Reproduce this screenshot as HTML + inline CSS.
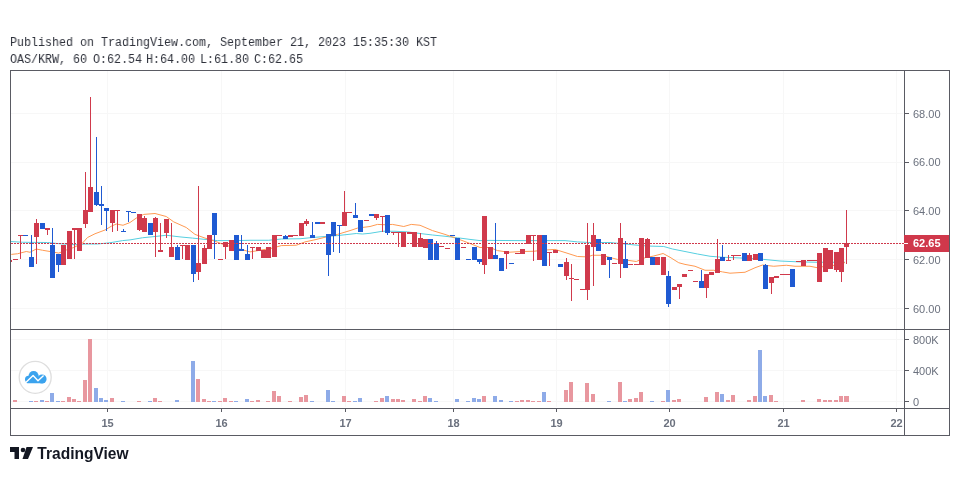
<!DOCTYPE html>
<html><head><meta charset="utf-8">
<style>
html,body{margin:0;padding:0;background:#fff;width:960px;height:500px;overflow:hidden;}
.hdr{position:absolute;left:10px;font-family:"Liberation Mono",monospace;font-size:12.5px;color:#2e313b;white-space:pre;line-height:14px;transform:scaleX(0.9333);transform-origin:0 0;}
svg{position:absolute;left:0;top:0;will-change:transform;}
.hdr{will-change:transform;}
.ax{font-family:"Liberation Sans",sans-serif;font-size:11px;fill:#6b717e;}
.tx{font-family:"Liberation Sans",sans-serif;font-size:11px;font-weight:bold;fill:#6b717e;}
</style></head>
<body>
<div class="hdr" style="top:36px">Published on TradingView.com, September 21, 2023 15:35:30 KST</div>
<div class="hdr" style="top:53px">OAS/KRW, 60</div>
<div class="hdr" style="top:53px;left:92.5px">O:62.54</div>
<div class="hdr" style="top:53px;left:146px">H:64.00</div>
<div class="hdr" style="top:53px;left:200px">L:61.80</div>
<div class="hdr" style="top:53px;left:254px">C:62.65</div>
<svg width="960" height="500" viewBox="0 0 960 500">
<g id="grid" stroke="#f7f7f7" stroke-width="1" shape-rendering="crispEdges">
<path d="M11 113.5H903M11 162.5H903M11 210.5H903M11 259.5H903M11 308.5H903M11 339.5H903M11 370.5H903M11 401.5H903"/>
<path d="M107.5 71V407M221.5 71V407M345.5 71V407M453.5 71V407M556.5 71V407M669.5 71V407M783.5 71V407M896.5 71V407"/>
</g>
<g id="frame" stroke="#5a5b63" stroke-width="1" fill="none" shape-rendering="crispEdges">
<path d="M10.5 70V435.5M949.5 70V435.5M10 70.5H950M10 435.5H950M904.5 70V435M10 329.5H950M10 408.5H950"/>
<path d="M905 113.5H909M905 162.5H909M905 210.5H909M905 259.5H909M905 308.5H909M905 339.5H909M905 370.5H909M905 401.5H909"/>
<path d="M107.5 409V412M221.5 409V412M345.5 409V412M453.5 409V412M556.5 409V412M669.5 409V412M783.5 409V412M896.5 409V412"/>
</g>
<g class="ax">
<text x="913" y="117.5">68.00</text>
<text x="913" y="165.5">66.00</text>
<text x="913" y="214.5">64.00</text>
<text x="913" y="263.5">62.00</text>
<text x="913" y="312.5">60.00</text>
<text x="913" y="343.5">800K</text>
<text x="913" y="374.5">400K</text>
<text x="913" y="405.5">0</text>
</g>
<g class="tx" text-anchor="middle">
<text x="107.5" y="427">15</text>
<text x="221.5" y="427">16</text>
<text x="345.5" y="427">17</text>
<text x="453.5" y="427">18</text>
<text x="556.5" y="427">19</text>
<text x="669.5" y="427">20</text>
<text x="783.5" y="427">21</text>
<text x="896.5" y="427">22</text>
</g>
<!-- CANDLES -->
<defs><clipPath id="cp"><rect x="11" y="71" width="893" height="258"/></clipPath><clipPath id="cpv"><rect x="11" y="330" width="893" height="78"/></clipPath></defs><g clip-path="url(#cp)" fill="none" stroke-width="1" stroke-linejoin="round"><polyline points="10.00,241.50 22.50,242.25 47.50,242.50 60.00,243.75 75.00,244.75 85.00,244.00 97.50,244.00 110.00,242.75 122.50,240.60 130.00,239.90 142.50,237.75 155.00,236.50 166.25,235.25 180.00,236.90 192.50,238.10 205.00,239.40 217.50,240.60 236.25,240.60 250.00,240.25 268.75,240.25 281.25,239.00 300.00,238.75 312.50,237.50 325.00,236.50 337.50,235.60 356.25,233.50 362.50,234.00 370.00,233.30 382.50,231.25 395.00,231.25 407.50,231.90 420.00,233.50 432.50,235.00 445.00,236.25 457.50,237.75 470.00,239.40 480.00,240.60 490.00,240.40 515.00,240.60 540.00,240.60 565.00,240.60 577.50,241.90 590.00,242.50 610.00,242.50 622.50,243.75 635.00,245.00 647.50,246.00 663.75,246.50 672.50,249.00 685.00,251.50 697.50,254.00 710.00,256.25 722.50,257.25 730.00,257.50 742.50,258.10 763.75,259.40 780.00,261.00 798.75,261.90 817.50,262.25 836.25,262.25 845.00,262.25" stroke="#56cfe0"/><polyline points="11.25,254.40 17.50,253.75 26.25,251.50 30.00,252.25 36.25,249.00 42.50,250.25 50.00,251.50 58.75,253.10 66.25,250.00 73.75,247.50 82.50,243.10 87.50,237.50 95.00,233.75 105.00,230.00 111.25,226.25 116.25,224.00 123.00,225.25 130.00,222.50 136.25,218.10 143.75,214.40 155.00,213.50 166.25,216.50 173.75,221.90 186.25,227.50 195.00,234.40 205.00,238.10 215.00,241.25 225.00,245.00 236.25,248.10 250.00,251.90 260.00,250.25 272.50,248.10 281.25,245.60 296.25,245.25 305.00,241.90 315.00,239.75 325.00,237.25 337.50,234.40 350.00,230.60 357.50,228.10 370.00,226.50 377.50,224.40 385.00,224.75 392.50,224.40 403.75,226.50 411.25,224.40 420.00,225.25 432.50,230.60 445.00,234.40 457.50,238.75 470.00,243.50 480.00,247.50 490.00,247.50 497.50,250.60 508.75,252.25 521.25,251.50 533.75,251.25 542.50,250.25 555.00,249.40 565.00,252.50 577.50,256.50 587.50,256.90 592.50,255.25 602.50,255.25 610.00,257.50 617.50,259.40 627.50,260.25 636.25,261.50 645.00,257.75 653.75,256.00 663.10,253.50 670.00,257.25 678.75,262.75 685.00,264.40 695.00,266.25 705.00,270.25 713.75,270.25 722.50,271.90 730.00,273.20 745.00,272.25 755.00,267.75 762.50,265.00 773.75,266.25 786.25,265.25 795.00,266.25 810.00,266.25 817.50,267.75 825.00,266.25 837.50,265.00 845.00,262.50" stroke="#ff9a52"/></g><g clip-path="url(#cp)" shape-rendering="crispEdges"><rect x="7" y="260" width="5" height="2" fill="#d03a4c"/><rect x="13" y="259" width="5" height="1" fill="#d03a4c"/><rect x="20" y="235" width="1" height="24" fill="#d03a4c"/><rect x="18" y="235" width="5" height="1" fill="#d03a4c"/><rect x="23" y="235" width="5" height="1" fill="#1f5ad2"/><rect x="31" y="235" width="1" height="32" fill="#1f5ad2"/><rect x="29" y="257" width="5" height="10" fill="#1f5ad2"/><rect x="36" y="219" width="1" height="45" fill="#d03a4c"/><rect x="34" y="223" width="5" height="14" fill="#d03a4c"/><rect x="40" y="223" width="5" height="6" fill="#1f5ad2"/><rect x="47" y="228" width="1" height="7" fill="#d03a4c"/><rect x="45" y="228" width="5" height="2" fill="#d03a4c"/><rect x="52" y="228" width="1" height="50" fill="#1f5ad2"/><rect x="50" y="245" width="5" height="33" fill="#1f5ad2"/><rect x="58" y="254" width="1" height="18" fill="#1f5ad2"/><rect x="56" y="254" width="5" height="11" fill="#1f5ad2"/><rect x="61" y="245" width="5" height="20" fill="#d03a4c"/><rect x="67" y="231" width="5" height="28" fill="#d03a4c"/><rect x="74" y="228" width="1" height="31" fill="#d03a4c"/><rect x="72" y="228" width="5" height="2" fill="#d03a4c"/><rect x="77" y="228" width="5" height="23" fill="#d03a4c"/><rect x="85" y="172" width="1" height="56" fill="#d03a4c"/><rect x="83" y="210" width="5" height="14" fill="#d03a4c"/><rect x="90" y="97" width="1" height="115" fill="#d03a4c"/><rect x="88" y="187" width="5" height="25" fill="#d03a4c"/><rect x="96" y="137" width="1" height="69" fill="#1f5ad2"/><rect x="94" y="192" width="5" height="13" fill="#1f5ad2"/><rect x="101" y="186" width="1" height="39" fill="#1f5ad2"/><rect x="99" y="204" width="5" height="2" fill="#1f5ad2"/><rect x="106" y="208" width="1" height="23" fill="#1f5ad2"/><rect x="104" y="208" width="5" height="3" fill="#1f5ad2"/><rect x="112" y="210" width="1" height="22" fill="#d03a4c"/><rect x="110" y="210" width="5" height="13" fill="#d03a4c"/><rect x="117" y="210" width="1" height="21" fill="#d03a4c"/><rect x="115" y="210" width="5" height="1" fill="#d03a4c"/><rect x="123" y="229" width="1" height="3" fill="#1f5ad2"/><rect x="121" y="231" width="5" height="1" fill="#1f5ad2"/><rect x="128" y="211" width="1" height="11" fill="#1f5ad2"/><rect x="126" y="211" width="5" height="1" fill="#1f5ad2"/><rect x="131" y="212" width="5" height="1" fill="#1f5ad2"/><rect x="139" y="214" width="1" height="17" fill="#d03a4c"/><rect x="137" y="214" width="5" height="16" fill="#d03a4c"/><rect x="144" y="216" width="1" height="16" fill="#d03a4c"/><rect x="142" y="218" width="5" height="14" fill="#d03a4c"/><rect x="148" y="223" width="5" height="12" fill="#1f5ad2"/><rect x="155" y="217" width="1" height="40" fill="#d03a4c"/><rect x="153" y="218" width="5" height="14" fill="#d03a4c"/><rect x="160" y="223" width="1" height="29" fill="#d03a4c"/><rect x="158" y="250" width="5" height="2" fill="#d03a4c"/><rect x="166" y="219" width="1" height="19" fill="#d03a4c"/><rect x="164" y="219" width="5" height="14" fill="#d03a4c"/><rect x="171" y="223" width="1" height="34" fill="#d03a4c"/><rect x="169" y="247" width="5" height="10" fill="#d03a4c"/><rect x="177" y="245" width="1" height="15" fill="#1f5ad2"/><rect x="175" y="247" width="5" height="13" fill="#1f5ad2"/><rect x="182" y="245" width="1" height="14" fill="#d03a4c"/><rect x="180" y="245" width="5" height="1" fill="#d03a4c"/><rect x="185" y="245" width="5" height="15" fill="#d03a4c"/><rect x="193" y="245" width="1" height="37" fill="#1f5ad2"/><rect x="191" y="245" width="5" height="29" fill="#1f5ad2"/><rect x="198" y="186" width="1" height="94" fill="#d03a4c"/><rect x="196" y="263" width="5" height="9" fill="#d03a4c"/><rect x="204" y="245" width="1" height="19" fill="#d03a4c"/><rect x="202" y="248" width="5" height="16" fill="#d03a4c"/><rect x="207" y="235" width="5" height="14" fill="#d03a4c"/><rect x="214" y="213" width="1" height="46" fill="#1f5ad2"/><rect x="212" y="213" width="5" height="22" fill="#1f5ad2"/><rect x="218" y="259" width="5" height="1" fill="#d03a4c"/><rect x="225" y="242" width="1" height="17" fill="#d03a4c"/><rect x="223" y="242" width="5" height="5" fill="#d03a4c"/><rect x="229" y="240" width="5" height="11" fill="#d03a4c"/><rect x="234" y="235" width="5" height="25" fill="#1f5ad2"/><rect x="241" y="235" width="1" height="16" fill="#1f5ad2"/><rect x="239" y="249" width="5" height="2" fill="#1f5ad2"/><rect x="247" y="245" width="1" height="15" fill="#1f5ad2"/><rect x="245" y="254" width="5" height="6" fill="#1f5ad2"/><rect x="252" y="247" width="1" height="12" fill="#d03a4c"/><rect x="250" y="247" width="5" height="1" fill="#d03a4c"/><rect x="256" y="247" width="5" height="4" fill="#d03a4c"/><rect x="261" y="250" width="5" height="8" fill="#d03a4c"/><rect x="266" y="247" width="5" height="11" fill="#d03a4c"/><rect x="272" y="235" width="5" height="22" fill="#d03a4c"/><rect x="277" y="235" width="5" height="1" fill="#d03a4c"/><rect x="285" y="235" width="1" height="4" fill="#1f5ad2"/><rect x="283" y="236" width="5" height="3" fill="#1f5ad2"/><rect x="288" y="235" width="5" height="2" fill="#d03a4c"/><rect x="293" y="235" width="5" height="1" fill="#d03a4c"/><rect x="299" y="223" width="5" height="13" fill="#d03a4c"/><rect x="306" y="219" width="1" height="7" fill="#d03a4c"/><rect x="304" y="221" width="5" height="3" fill="#d03a4c"/><rect x="312" y="222" width="1" height="16" fill="#1f5ad2"/><rect x="310" y="235" width="5" height="3" fill="#1f5ad2"/><rect x="315" y="222" width="5" height="2" fill="#1f5ad2"/><rect x="320" y="222" width="5" height="2" fill="#d03a4c"/><rect x="328" y="234" width="1" height="42" fill="#1f5ad2"/><rect x="326" y="234" width="5" height="21" fill="#1f5ad2"/><rect x="333" y="222" width="1" height="30" fill="#1f5ad2"/><rect x="331" y="222" width="5" height="14" fill="#1f5ad2"/><rect x="339" y="225" width="1" height="28" fill="#1f5ad2"/><rect x="337" y="225" width="5" height="1" fill="#1f5ad2"/><rect x="344" y="191" width="1" height="35" fill="#d03a4c"/><rect x="342" y="212" width="5" height="14" fill="#d03a4c"/><rect x="347" y="212" width="5" height="1" fill="#d03a4c"/><rect x="355" y="203" width="1" height="15" fill="#1f5ad2"/><rect x="353" y="215" width="5" height="3" fill="#1f5ad2"/><rect x="358" y="220" width="5" height="12" fill="#1f5ad2"/><rect x="364" y="220" width="5" height="1" fill="#d03a4c"/><rect x="369" y="214" width="5" height="2" fill="#1f5ad2"/><rect x="376" y="214" width="1" height="6" fill="#d03a4c"/><rect x="374" y="214" width="5" height="4" fill="#d03a4c"/><rect x="382" y="216" width="1" height="16" fill="#d03a4c"/><rect x="380" y="216" width="5" height="1" fill="#d03a4c"/><rect x="387" y="215" width="1" height="20" fill="#1f5ad2"/><rect x="385" y="215" width="5" height="18" fill="#1f5ad2"/><rect x="393" y="232" width="1" height="3" fill="#d03a4c"/><rect x="391" y="232" width="5" height="1" fill="#d03a4c"/><rect x="398" y="232" width="1" height="15" fill="#d03a4c"/><rect x="396" y="232" width="5" height="1" fill="#d03a4c"/><rect x="401" y="232" width="5" height="15" fill="#d03a4c"/><rect x="407" y="232" width="5" height="2" fill="#d03a4c"/><rect x="412" y="232" width="5" height="15" fill="#d03a4c"/><rect x="420" y="233" width="1" height="14" fill="#d03a4c"/><rect x="418" y="238" width="5" height="9" fill="#d03a4c"/><rect x="423" y="239" width="5" height="9" fill="#d03a4c"/><rect x="428" y="239" width="5" height="21" fill="#1f5ad2"/><rect x="436" y="241" width="1" height="19" fill="#1f5ad2"/><rect x="434" y="243" width="5" height="17" fill="#1f5ad2"/><rect x="439" y="246" width="5" height="1" fill="#d03a4c"/><rect x="445" y="248" width="5" height="1" fill="#d03a4c"/><rect x="450" y="235" width="5" height="1" fill="#1f5ad2"/><rect x="455" y="238" width="5" height="22" fill="#1f5ad2"/><rect x="461" y="247" width="5" height="1" fill="#d03a4c"/><rect x="466" y="259" width="5" height="1" fill="#1f5ad2"/><rect x="472" y="247" width="5" height="13" fill="#1f5ad2"/><rect x="479" y="259" width="1" height="5" fill="#1f5ad2"/><rect x="477" y="259" width="5" height="3" fill="#1f5ad2"/><rect x="484" y="216" width="1" height="58" fill="#d03a4c"/><rect x="482" y="216" width="5" height="49" fill="#d03a4c"/><rect x="488" y="247" width="5" height="12" fill="#d03a4c"/><rect x="495" y="223" width="1" height="36" fill="#1f5ad2"/><rect x="493" y="255" width="5" height="4" fill="#1f5ad2"/><rect x="499" y="258" width="5" height="13" fill="#1f5ad2"/><rect x="506" y="251" width="1" height="18" fill="#d03a4c"/><rect x="504" y="251" width="5" height="3" fill="#d03a4c"/><rect x="509" y="263" width="5" height="1" fill="#1f5ad2"/><rect x="515" y="253" width="5" height="1" fill="#d03a4c"/><rect x="520" y="249" width="5" height="5" fill="#d03a4c"/><rect x="526" y="235" width="5" height="9" fill="#d03a4c"/><rect x="533" y="235" width="1" height="26" fill="#d03a4c"/><rect x="531" y="235" width="5" height="1" fill="#d03a4c"/><rect x="537" y="235" width="5" height="25" fill="#d03a4c"/><rect x="542" y="235" width="5" height="31" fill="#1f5ad2"/><rect x="549" y="252" width="1" height="14" fill="#d03a4c"/><rect x="547" y="252" width="5" height="1" fill="#d03a4c"/><rect x="553" y="250" width="5" height="3" fill="#d03a4c"/><rect x="558" y="264" width="5" height="3" fill="#1f5ad2"/><rect x="566" y="258" width="1" height="22" fill="#d03a4c"/><rect x="564" y="262" width="5" height="14" fill="#d03a4c"/><rect x="571" y="264" width="1" height="37" fill="#d03a4c"/><rect x="569" y="278" width="5" height="1" fill="#d03a4c"/><rect x="574" y="279" width="5" height="1" fill="#d03a4c"/><rect x="580" y="289" width="5" height="1" fill="#d03a4c"/><rect x="587" y="223" width="1" height="77" fill="#d03a4c"/><rect x="585" y="245" width="5" height="45" fill="#d03a4c"/><rect x="593" y="223" width="1" height="63" fill="#d03a4c"/><rect x="591" y="235" width="5" height="12" fill="#d03a4c"/><rect x="596" y="239" width="5" height="12" fill="#1f5ad2"/><rect x="601" y="254" width="5" height="11" fill="#d03a4c"/><rect x="609" y="257" width="1" height="21" fill="#1f5ad2"/><rect x="607" y="257" width="5" height="3" fill="#1f5ad2"/><rect x="612" y="263" width="5" height="1" fill="#d03a4c"/><rect x="620" y="223" width="1" height="55" fill="#d03a4c"/><rect x="618" y="238" width="5" height="26" fill="#d03a4c"/><rect x="625" y="241" width="1" height="27" fill="#1f5ad2"/><rect x="623" y="259" width="5" height="9" fill="#1f5ad2"/><rect x="628" y="264" width="5" height="1" fill="#d03a4c"/><rect x="634" y="264" width="5" height="1" fill="#d03a4c"/><rect x="639" y="238" width="5" height="27" fill="#d03a4c"/><rect x="647" y="238" width="1" height="20" fill="#d03a4c"/><rect x="645" y="239" width="5" height="19" fill="#d03a4c"/><rect x="650" y="257" width="5" height="8" fill="#1f5ad2"/><rect x="655" y="257" width="5" height="8" fill="#d03a4c"/><rect x="661" y="257" width="5" height="18" fill="#d03a4c"/><rect x="668" y="271" width="1" height="36" fill="#1f5ad2"/><rect x="666" y="276" width="5" height="28" fill="#1f5ad2"/><rect x="672" y="287" width="5" height="3" fill="#d03a4c"/><rect x="679" y="284" width="1" height="15" fill="#d03a4c"/><rect x="677" y="284" width="5" height="3" fill="#d03a4c"/><rect x="682" y="274" width="5" height="3" fill="#d03a4c"/><rect x="688" y="270" width="5" height="1" fill="#d03a4c"/><rect x="693" y="281" width="5" height="1" fill="#d03a4c"/><rect x="701" y="270" width="1" height="18" fill="#1f5ad2"/><rect x="699" y="281" width="5" height="7" fill="#1f5ad2"/><rect x="706" y="274" width="1" height="24" fill="#d03a4c"/><rect x="704" y="274" width="5" height="14" fill="#d03a4c"/><rect x="709" y="272" width="5" height="3" fill="#d03a4c"/><rect x="717" y="239" width="1" height="34" fill="#d03a4c"/><rect x="715" y="259" width="5" height="14" fill="#d03a4c"/><rect x="722" y="245" width="1" height="16" fill="#1f5ad2"/><rect x="720" y="257" width="5" height="4" fill="#1f5ad2"/><rect x="728" y="255" width="1" height="6" fill="#d03a4c"/><rect x="726" y="260" width="5" height="1" fill="#d03a4c"/><rect x="733" y="255" width="1" height="5" fill="#d03a4c"/><rect x="731" y="255" width="5" height="1" fill="#d03a4c"/><rect x="736" y="255" width="5" height="1" fill="#d03a4c"/><rect x="742" y="253" width="5" height="8" fill="#1f5ad2"/><rect x="749" y="253" width="1" height="8" fill="#d03a4c"/><rect x="747" y="255" width="5" height="6" fill="#d03a4c"/><rect x="753" y="254" width="5" height="6" fill="#d03a4c"/><rect x="758" y="253" width="5" height="8" fill="#1f5ad2"/><rect x="765" y="264" width="1" height="25" fill="#1f5ad2"/><rect x="763" y="265" width="5" height="24" fill="#1f5ad2"/><rect x="771" y="277" width="1" height="17" fill="#d03a4c"/><rect x="769" y="277" width="5" height="6" fill="#d03a4c"/><rect x="774" y="276" width="5" height="2" fill="#d03a4c"/><rect x="780" y="274" width="5" height="1" fill="#d03a4c"/><rect x="785" y="274" width="5" height="1" fill="#d03a4c"/><rect x="790" y="269" width="5" height="18" fill="#1f5ad2"/><rect x="796" y="261" width="5" height="1" fill="#d03a4c"/><rect x="801" y="260" width="5" height="6" fill="#d03a4c"/><rect x="807" y="260" width="5" height="1" fill="#d03a4c"/><rect x="812" y="260" width="5" height="1" fill="#d03a4c"/><rect x="817" y="253" width="5" height="29" fill="#d03a4c"/><rect x="823" y="248" width="5" height="24" fill="#d03a4c"/><rect x="828" y="250" width="5" height="19" fill="#d03a4c"/><rect x="836" y="252" width="1" height="20" fill="#d03a4c"/><rect x="834" y="252" width="5" height="18" fill="#d03a4c"/><rect x="841" y="248" width="1" height="34" fill="#d03a4c"/><rect x="839" y="248" width="5" height="24" fill="#d03a4c"/><rect x="846" y="210" width="1" height="54" fill="#d03a4c"/><rect x="844" y="243" width="5" height="4" fill="#d03a4c"/></g><g clip-path="url(#cpv)" shape-rendering="crispEdges"><rect x="7" y="401" width="4" height="1" fill="#e8979f"/><rect x="13" y="400" width="4" height="2" fill="#e8979f"/><rect x="29" y="401" width="4" height="1" fill="#8eabe8"/><rect x="34" y="401" width="4" height="1" fill="#e8979f"/><rect x="40" y="400" width="4" height="2" fill="#8eabe8"/><rect x="45" y="401" width="4" height="1" fill="#e8979f"/><rect x="50" y="393" width="4" height="9" fill="#8eabe8"/><rect x="56" y="401" width="4" height="1" fill="#8eabe8"/><rect x="61" y="401" width="4" height="1" fill="#e8979f"/><rect x="67" y="397" width="4" height="5" fill="#e8979f"/><rect x="72" y="399" width="4" height="3" fill="#e8979f"/><rect x="77" y="401" width="4" height="1" fill="#e8979f"/><rect x="83" y="380" width="4" height="22" fill="#e8979f"/><rect x="88" y="339" width="4" height="63" fill="#e8979f"/><rect x="94" y="388" width="4" height="14" fill="#8eabe8"/><rect x="99" y="398" width="4" height="4" fill="#8eabe8"/><rect x="104" y="400" width="4" height="2" fill="#8eabe8"/><rect x="110" y="398" width="4" height="4" fill="#e8979f"/><rect x="121" y="401" width="4" height="1" fill="#8eabe8"/><rect x="137" y="401" width="4" height="1" fill="#e8979f"/><rect x="148" y="401" width="4" height="1" fill="#8eabe8"/><rect x="153" y="398" width="4" height="4" fill="#e8979f"/><rect x="158" y="401" width="4" height="1" fill="#e8979f"/><rect x="175" y="400" width="4" height="2" fill="#8eabe8"/><rect x="191" y="361" width="4" height="41" fill="#8eabe8"/><rect x="196" y="379" width="4" height="23" fill="#e8979f"/><rect x="202" y="399" width="4" height="3" fill="#e8979f"/><rect x="207" y="401" width="4" height="1" fill="#e8979f"/><rect x="212" y="401" width="4" height="1" fill="#8eabe8"/><rect x="218" y="401" width="4" height="1" fill="#e8979f"/><rect x="223" y="398" width="4" height="4" fill="#e8979f"/><rect x="229" y="401" width="4" height="1" fill="#e8979f"/><rect x="234" y="401" width="4" height="1" fill="#8eabe8"/><rect x="245" y="399" width="4" height="3" fill="#8eabe8"/><rect x="250" y="401" width="4" height="1" fill="#e8979f"/><rect x="256" y="400" width="4" height="2" fill="#e8979f"/><rect x="266" y="401" width="4" height="1" fill="#e8979f"/><rect x="272" y="391" width="4" height="11" fill="#e8979f"/><rect x="277" y="396" width="4" height="6" fill="#e8979f"/><rect x="288" y="401" width="4" height="1" fill="#e8979f"/><rect x="299" y="397" width="4" height="5" fill="#e8979f"/><rect x="304" y="395" width="4" height="7" fill="#e8979f"/><rect x="310" y="401" width="4" height="1" fill="#8eabe8"/><rect x="326" y="390" width="4" height="12" fill="#8eabe8"/><rect x="331" y="401" width="4" height="1" fill="#8eabe8"/><rect x="342" y="396" width="4" height="6" fill="#e8979f"/><rect x="347" y="401" width="4" height="1" fill="#e8979f"/><rect x="353" y="401" width="4" height="1" fill="#8eabe8"/><rect x="358" y="398" width="4" height="4" fill="#8eabe8"/><rect x="374" y="401" width="4" height="1" fill="#e8979f"/><rect x="380" y="398" width="4" height="4" fill="#e8979f"/><rect x="385" y="396" width="4" height="6" fill="#8eabe8"/><rect x="391" y="399" width="4" height="3" fill="#e8979f"/><rect x="396" y="399" width="4" height="3" fill="#e8979f"/><rect x="401" y="400" width="4" height="2" fill="#e8979f"/><rect x="412" y="399" width="4" height="3" fill="#e8979f"/><rect x="418" y="401" width="4" height="1" fill="#e8979f"/><rect x="423" y="396" width="4" height="6" fill="#e8979f"/><rect x="428" y="398" width="4" height="4" fill="#8eabe8"/><rect x="434" y="401" width="4" height="1" fill="#8eabe8"/><rect x="455" y="399" width="4" height="3" fill="#8eabe8"/><rect x="466" y="401" width="4" height="1" fill="#8eabe8"/><rect x="472" y="398" width="4" height="4" fill="#8eabe8"/><rect x="477" y="399" width="4" height="3" fill="#8eabe8"/><rect x="482" y="396" width="4" height="6" fill="#e8979f"/><rect x="493" y="396" width="4" height="6" fill="#8eabe8"/><rect x="499" y="400" width="4" height="2" fill="#8eabe8"/><rect x="509" y="401" width="4" height="1" fill="#8eabe8"/><rect x="515" y="401" width="4" height="1" fill="#e8979f"/><rect x="520" y="400" width="4" height="2" fill="#e8979f"/><rect x="526" y="400" width="4" height="2" fill="#e8979f"/><rect x="531" y="401" width="4" height="1" fill="#e8979f"/><rect x="537" y="401" width="4" height="1" fill="#e8979f"/><rect x="542" y="392" width="4" height="10" fill="#8eabe8"/><rect x="547" y="401" width="4" height="1" fill="#e8979f"/><rect x="564" y="390" width="4" height="12" fill="#e8979f"/><rect x="569" y="382" width="4" height="20" fill="#e8979f"/><rect x="585" y="383" width="4" height="19" fill="#e8979f"/><rect x="591" y="394" width="4" height="8" fill="#e8979f"/><rect x="607" y="401" width="4" height="1" fill="#8eabe8"/><rect x="618" y="382" width="4" height="20" fill="#e8979f"/><rect x="623" y="401" width="4" height="1" fill="#8eabe8"/><rect x="628" y="399" width="4" height="3" fill="#e8979f"/><rect x="634" y="398" width="4" height="4" fill="#e8979f"/><rect x="639" y="392" width="4" height="10" fill="#e8979f"/><rect x="650" y="401" width="4" height="1" fill="#8eabe8"/><rect x="661" y="401" width="4" height="1" fill="#e8979f"/><rect x="666" y="390" width="4" height="12" fill="#8eabe8"/><rect x="672" y="400" width="4" height="2" fill="#e8979f"/><rect x="677" y="399" width="4" height="3" fill="#e8979f"/><rect x="704" y="397" width="4" height="5" fill="#e8979f"/><rect x="715" y="392" width="4" height="10" fill="#e8979f"/><rect x="720" y="394" width="4" height="8" fill="#8eabe8"/><rect x="726" y="400" width="4" height="2" fill="#e8979f"/><rect x="731" y="395" width="4" height="7" fill="#e8979f"/><rect x="747" y="400" width="4" height="2" fill="#e8979f"/><rect x="753" y="396" width="4" height="6" fill="#e8979f"/><rect x="758" y="350" width="4" height="52" fill="#8eabe8"/><rect x="763" y="396" width="4" height="6" fill="#8eabe8"/><rect x="769" y="395" width="4" height="7" fill="#e8979f"/><rect x="774" y="401" width="4" height="1" fill="#e8979f"/><rect x="801" y="400" width="4" height="2" fill="#e8979f"/><rect x="817" y="399" width="4" height="3" fill="#e8979f"/><rect x="823" y="400" width="4" height="2" fill="#e8979f"/><rect x="828" y="400" width="4" height="2" fill="#e8979f"/><rect x="834" y="400" width="4" height="2" fill="#e8979f"/><rect x="839" y="396" width="4" height="6" fill="#e8979f"/><rect x="844" y="396" width="5" height="6" fill="#e8979f"/></g>
<!-- last price -->
<path d="M11 243.5H904" stroke="#d0384b" stroke-width="1" stroke-dasharray="2 1" shape-rendering="crispEdges"/>
<rect x="904" y="235" width="45" height="17" fill="#d0384b"/>
<rect x="904" y="243" width="4" height="1" fill="#fff"/>
<text x="913" y="247" font-family="Liberation Sans" font-size="11" font-weight="bold" fill="#fff">62.65</text>
<!-- logo circle -->
<circle cx="35.2" cy="377.3" r="16" fill="#fff" stroke="#dedede" stroke-width="1.3"/>
<g fill="#3ba3ee"><circle cx="28.6" cy="379.3" r="3.6"/><circle cx="33.6" cy="376" r="5.1"/><circle cx="42" cy="379" r="4.6"/><rect x="26" y="378" width="18" height="5.2" rx="1.5"/></g>
<polyline points="25.8,382.6 33.1,375.6 38,380.7 43.6,375.4" fill="none" stroke="#fff" stroke-width="1.4" stroke-linejoin="round"/>
<!-- TradingView logo -->
<g fill="#131722">
<path d="M10 447H19V459H14.5V452H10Z"/>
<circle cx="23" cy="450" r="2.3"/>
<path d="M26.5 447H33L28 459H22.5Z"/>
</g>
<text x="37.3" y="458.8" font-family="Liberation Sans" font-size="16.4" font-weight="bold" fill="#131722" textLength="91.3" lengthAdjust="spacingAndGlyphs">TradingView</text>
</svg>
</body></html>
